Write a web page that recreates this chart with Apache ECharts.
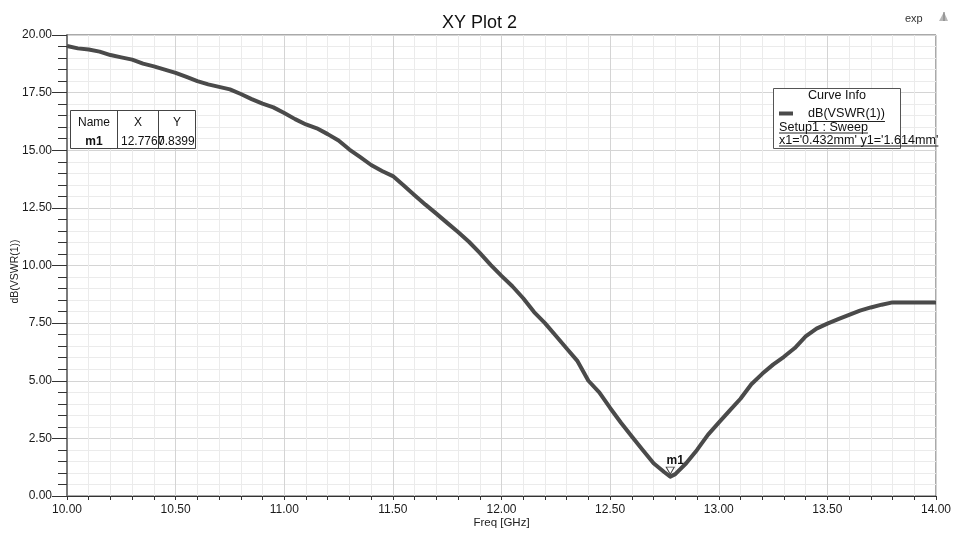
<!DOCTYPE html>
<html>
<head>
<meta charset="utf-8">
<script src="https://cdn.jsdelivr.net/npm/echarts@6/dist/echarts.min.js"></script>
<style>
  html, body { margin: 0; padding: 0; background: #ffffff; }
  #chart { width: 959px; height: 533px; }
</style>
</head>
<body>
<div id="chart"></div>
<script>
// Frequency sweep (GHz) and return quality dB(VSWR(1)) of the simulated port
const freqGHz = [
  10.00, 10.05, 10.10, 10.15, 10.20, 10.25, 10.30, 10.35, 10.40, 10.45,
  10.50, 10.55, 10.60, 10.65, 10.70, 10.75, 10.80, 10.85, 10.90, 10.95,
  11.00, 11.05, 11.10, 11.15, 11.20, 11.25, 11.30, 11.35, 11.40, 11.45,
  11.50, 11.55, 11.60, 11.65, 11.70, 11.75, 11.80, 11.85, 11.90, 11.95,
  12.00, 12.05, 12.10, 12.15, 12.20, 12.25, 12.30, 12.35, 12.40, 12.45,
  12.50, 12.55, 12.60, 12.65, 12.70, 12.75, 12.7767, 12.80, 12.85, 12.90,
  12.95, 13.00, 13.05, 13.10, 13.15, 13.20, 13.25, 13.30, 13.35, 13.40,
  13.45, 13.50, 13.55, 13.60, 13.65, 13.70, 13.75, 13.80, 13.85, 13.90,
  13.95, 14.00
];
const vswrDb = [
  19.52, 19.42, 19.37, 19.28, 19.13, 19.03, 18.93, 18.76, 18.64, 18.50,
  18.36, 18.18, 18.00, 17.86, 17.75, 17.64, 17.44, 17.22, 17.02, 16.86,
  16.62, 16.35, 16.12, 15.95, 15.70, 15.42, 15.03, 14.70, 14.36, 14.10,
  13.88, 13.47, 13.05, 12.64, 12.25, 11.85, 11.45, 11.03, 10.55, 10.03,
  9.55, 9.10, 8.58, 7.98, 7.50, 6.95, 6.40, 5.85, 5.00, 4.50,
  3.82, 3.18, 2.58, 2.00, 1.42, 1.03, 0.8399, 0.95, 1.42, 2.00,
  2.65, 3.18, 3.70, 4.22, 4.85, 5.30, 5.70, 6.04, 6.42, 6.92,
  7.26, 7.48, 7.67, 7.86, 8.04, 8.18, 8.30, 8.40, 8.40, 8.40,
  8.40, 8.40
];

// Marker m1 readout
const markerName = 'm1';
const markerFreq = 12.7767;
const markerDb = 0.8399;

// Curve info legend texts
const traceName = 'dB(VSWR(1))';
const curveInfoTitle = 'Curve Info';
const curveInfoLines = ['Setup1 : Sweep', "x1='0.432mm' y1='1.614mm'"];

const FONT = '"Liberation Sans", Arial, Helvetica, sans-serif';

const chart = echarts.init(document.getElementById('chart'), null, { renderer: 'canvas' });

// Measure text so the underlines in the curve info box fit their labels
const measureCtx = document.createElement('canvas').getContext('2d');
function textWidth(str, size) {
  measureCtx.font = size + 'px ' + FONT;
  return measureCtx.measureText(str).width;
}

const seriesData = freqGHz.map((f, i) => [f, vswrDb[i]]);

const infoFont = 12.6;
const underlines = [];
const legendTextX = 808;
underlines.push({ x: legendTextX, y: 121.5, w: textWidth(traceName, infoFont) });
underlines.push({ x: 779, y: 133, w: textWidth(curveInfoLines[0], infoFont) });
underlines.push({ x: 779, y: 146, w: textWidth(curveInfoLines[1], infoFont) });

const graphics = [
  // "exp" tag and its icon in the top-right corner
  { type: 'text', left: 905, top: 13, style: { text: 'exp', font: '11px ' + FONT, fill: '#333' } },
  { type: 'polygon', shape: { points: [[939, 21], [944, 12], [948, 21]] }, style: { fill: '#b8b8b8' } },
  { type: 'line', shape: { x1: 944, y1: 12, x2: 944, y2: 21 }, style: { stroke: '#777', lineWidth: 1 } },

  // Marker readout table
  { type: 'rect', shape: { x: 70.5, y: 110.5, width: 125, height: 38 },
    style: { fill: '#ffffff', stroke: '#444', lineWidth: 1 }, z: 10 },
  { type: 'line', shape: { x1: 117.5, y1: 110.5, x2: 117.5, y2: 148.5 }, style: { stroke: '#444', lineWidth: 1 }, z: 11 },
  { type: 'line', shape: { x1: 158.5, y1: 110.5, x2: 158.5, y2: 148.5 }, style: { stroke: '#444', lineWidth: 1 }, z: 11 },
  { type: 'text', x: 94, y: 122.5, z: 12,
    style: { text: 'Name', font: '12px ' + FONT, fill: '#111', align: 'center', verticalAlign: 'middle' } },
  { type: 'text', x: 138, y: 122.5, z: 12,
    style: { text: 'X', font: '12px ' + FONT, fill: '#111', align: 'center', verticalAlign: 'middle' } },
  { type: 'text', x: 177, y: 122.5, z: 12,
    style: { text: 'Y', font: '12px ' + FONT, fill: '#111', align: 'center', verticalAlign: 'middle' } },
  { type: 'text', x: 94, y: 141.5, z: 12,
    style: { text: markerName, font: 'bold 12px ' + FONT, fill: '#111', align: 'center', verticalAlign: 'middle' } },
  { type: 'text', x: 121, y: 141.5, z: 12,
    style: { text: markerFreq.toFixed(4), font: '12px ' + FONT, fill: '#111', align: 'left', verticalAlign: 'middle' } },
  { type: 'text', x: 158, y: 141.5, z: 13,
    style: { text: markerDb.toFixed(4), font: '12px ' + FONT, fill: '#111', align: 'left', verticalAlign: 'middle' } },

  // Curve info box
  { type: 'rect', shape: { x: 773.5, y: 88.5, width: 127, height: 60 },
    style: { fill: '#ffffff', stroke: '#555', lineWidth: 1 }, z: 10 },
  { type: 'text', x: 837, y: 95.5, z: 12,
    style: { text: curveInfoTitle, font: infoFont + 'px ' + FONT, fill: '#111', align: 'center', verticalAlign: 'middle' } },
  { type: 'text', x: 779, y: 128, z: 12,
    style: { text: curveInfoLines[0], font: infoFont + 'px ' + FONT, fill: '#111', align: 'left', verticalAlign: 'middle' } },
  { type: 'text', x: 779, y: 141, z: 12,
    style: { text: curveInfoLines[1], font: infoFont + 'px ' + FONT, fill: '#111', align: 'left', verticalAlign: 'middle' } }
];
underlines.forEach(u => {
  graphics.push({ type: 'line', z: 12,
    shape: { x1: u.x, y1: u.y, x2: u.x + u.w, y2: u.y },
    style: { stroke: '#222', lineWidth: 1 } });
});

const option = {
  backgroundColor: '#ffffff',
  animation: false,
  textStyle: { fontFamily: FONT },
  title: {
    text: 'XY Plot 2',
    left: 'center',
    top: 9,
    textStyle: { fontFamily: FONT, fontSize: 18, fontWeight: 'normal', color: '#111' }
  },
  legend: {
    data: [traceName],
    left: 779,
    top: 107,
    padding: 0,
    itemWidth: 14,
    itemHeight: 4,
    icon: 'rect',
    selectedMode: false,
    z: 20,
    textStyle: { fontFamily: FONT, fontSize: infoFont, color: '#111', padding: [0, 0, 0, 10] }
  },
  grid: {
    left: 67, right: 23, top: 35, bottom: 37,
    containLabel: false,
    outerBoundsMode: 'none',
    show: true,
    borderColor: '#555',
    borderWidth: 1,
    backgroundColor: '#ffffff'
  },
  xAxis: {
    type: 'value',
    min: 10,
    max: 14,
    interval: 0.5,
    name: 'Freq [GHz]',
    nameLocation: 'middle',
    nameGap: 21,
    nameMoveOverlap: false,
    nameTextStyle: { fontFamily: FONT, fontSize: 11.5, color: '#222' },
    axisLine: { show: true, onZero: false, lineStyle: { color: '#333', width: 1 } },
    axisTick: { show: true, inside: false, length: 4, lineStyle: { color: '#333' } },
    minorTick: { show: true, splitNumber: 5, length: 4, lineStyle: { color: '#333' } },
    axisLabel: { margin: 8, fontSize: 12, color: '#1a1a1a', fontFamily: FONT,
                 formatter: v => v.toFixed(2) },
    splitLine: { show: true, lineStyle: { color: '#d4d4d4', width: 1 } },
    minorSplitLine: { show: true, lineStyle: { color: '#ebebeb', width: 1 } }
  },
  yAxis: {
    type: 'value',
    min: 0,
    max: 20,
    interval: 2.5,
    name: 'dB(VSWR(1))',
    nameLocation: 'middle',
    nameRotate: 90,
    nameGap: 46,
    nameMoveOverlap: false,
    nameTextStyle: { fontFamily: FONT, fontSize: 10.5, color: '#222', padding: [0, 0, 0, -12] },
    axisLine: { show: true, onZero: false, lineStyle: { color: '#7a7a7a', width: 2 } },
    axisTick: { show: true, inside: false, length: 15, lineStyle: { color: '#333' } },
    minorTick: { show: true, splitNumber: 5, length: 9, lineStyle: { color: '#333' } },
    axisLabel: { margin: 15, fontSize: 12, color: '#1a1a1a', fontFamily: FONT,
                 formatter: v => v.toFixed(2) },
    splitLine: { show: true, lineStyle: { color: '#d4d4d4', width: 1 } },
    minorSplitLine: { show: true, lineStyle: { color: '#ebebeb', width: 1 } }
  },
  series: [{
    name: traceName,
    type: 'line',
    data: seriesData,
    showSymbol: false,
    symbol: 'none',
    smooth: false,
    color: '#4a4a4a',
    lineStyle: { color: '#4a4a4a', width: 4, join: 'round', cap: 'butt' },
    z: 5,
    markPoint: {
      symbol: 'path://M0,0 L10,0 L5,9 Z',
      symbolSize: [8, 7],
      symbolOffset: [0, -6],
      itemStyle: { color: '#ffffff', borderColor: '#444', borderWidth: 1 },
      label: {
        show: true,
        position: 'inside',
        offset: [5, -10],
        formatter: markerName,
        fontFamily: FONT,
        fontWeight: 'bold',
        fontSize: 12,
        color: '#111'
      },
      data: [{ name: markerName, coord: [markerFreq, markerDb] }]
    }
  }],
  graphic: graphics
};

chart.setOption(option);
</script>
</body>
</html>
